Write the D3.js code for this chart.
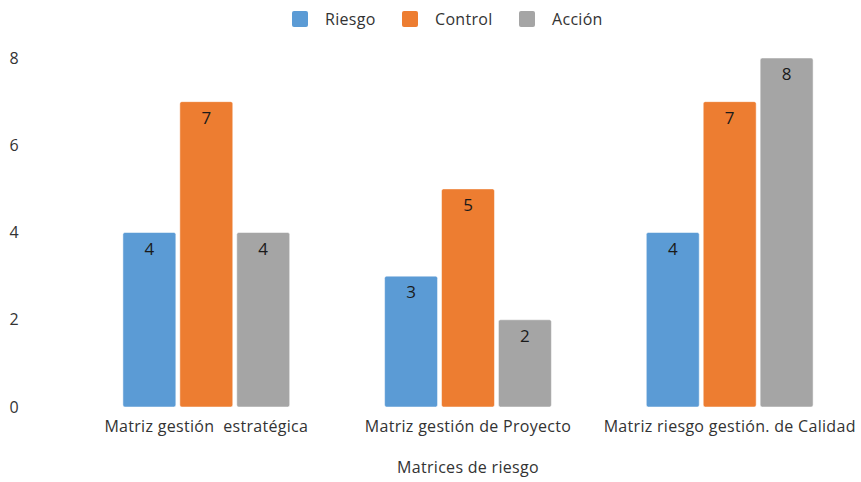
<!DOCTYPE html>
<html>
<head>
<meta charset="utf-8">
<script src="https://cdn.jsdelivr.net/npm/d3@7"></script>
<style>
  body { margin: 0; background: #fff; }
  text { font-family: "Open Sans", "Noto Sans", sans-serif; }
</style>
</head>
<body>
<div id="vis"></div>
<script>
const categories = ["Matriz gestión  estratégica", "Matriz gestión de Proyecto", "Matriz riesgo gestión. de Calidad"]
const series = ["Riesgo", "Control", "Acción"]
const riesgo = [4, 3, 4]
const control = [7, 5, 7]
const accion = [4, 2, 8]
const yTicks = [0, 2, 4, 6, 8]
const colors = ["#5B9BD5", "#ED7D31", "#A5A5A5"]

const width = 861, height = 482
const margin = {top: 58, right: 0, bottom: 75, left: 75}

const values = [riesgo, control, accion]
const data = categories.map((c, i) => ({cat: c, vals: series.map((s, j) => ({s, v: values[j][i], j}))}))

let svg = d3.select("#vis").append("svg")
    .attr("width", width).attr("height", height)

let x0 = d3.scaleBand().domain(categories)
    .range([margin.left, width - margin.right]).paddingInner(0.3626).paddingOuter(0.183)
let x1 = d3.scaleBand().domain(series).range([0, x0.bandwidth()]).paddingInner(0.07)
let y = d3.scaleLinear().domain([0, 8]).range([height - margin.bottom, margin.top])

// y axis labels
svg.append("g")
    .selectAll("text")
    .data(yTicks)
    .join("text")
    .attr("x", 14)
    .attr("y", d => y(d))
    .attr("dy", "0.35em")
    .attr("text-anchor", "middle")
    .attr("font-size", 16)
    .attr("fill", "#333")
    .text(d => d)

let groups = svg.append("g")
    .selectAll("g")
    .data(data)
    .join("g")
    .attr("transform", d => `translate(${x0(d.cat)},0)`)

groups.selectAll("rect")
    .data(d => d.vals)
    .join("rect")
    .attr("x", d => x1(d.s))
    .attr("y", d => y(d.v))
    .attr("width", x1.bandwidth())
    .attr("height", d => y(0) - y(d.v))
    .attr("rx", 2)
    .attr("fill", d => colors[d.j])
    .attr("stroke", "#fff")
    .attr("stroke-width", 0.5)

groups.selectAll("text.val")
    .data(d => d.vals)
    .join("text")
    .attr("class", "val")
    .attr("x", d => x1(d.s) + x1.bandwidth() / 2)
    .attr("y", d => y(d.v) + 22)
    .attr("text-anchor", "middle")
    .attr("font-size", 17)
    .attr("fill", "#1a1a1a")
    .text(d => d.v)

// category labels
svg.append("g")
    .selectAll("text")
    .data(categories)
    .join("text")
    .attr("x", d => x0(d) + x0.bandwidth() / 2)
    .attr("y", 432)
    .attr("text-anchor", "middle")
    .attr("font-size", 16)
    .attr("letter-spacing", 0.3)
    .attr("fill", "#333")
    .style("white-space", "pre")
    .text(d => d)

svg.append("text")
    .attr("x", 468)
    .attr("y", 473)
    .attr("text-anchor", "middle")
    .attr("font-size", 16)
    .attr("letter-spacing", 0.3)
    .attr("fill", "#333")
    .text("Matrices de riesgo")

// legend
const legendX = [292, 402, 519]
let legend = svg.append("g")
    .selectAll("g")
    .data(series)
    .join("g")
    .attr("transform", (d, i) => `translate(${legendX[i]},11)`)
legend.append("rect")
    .attr("width", 16).attr("height", 16).attr("rx", 2)
    .attr("fill", (d, i) => colors[i])
legend.append("text")
    .attr("x", 33).attr("y", 8).attr("dy", "0.35em")
    .attr("font-size", 16)
    .attr("letter-spacing", 0.3)
    .attr("fill", "#333")
    .text(d => d)
</script>
</body>
</html>
